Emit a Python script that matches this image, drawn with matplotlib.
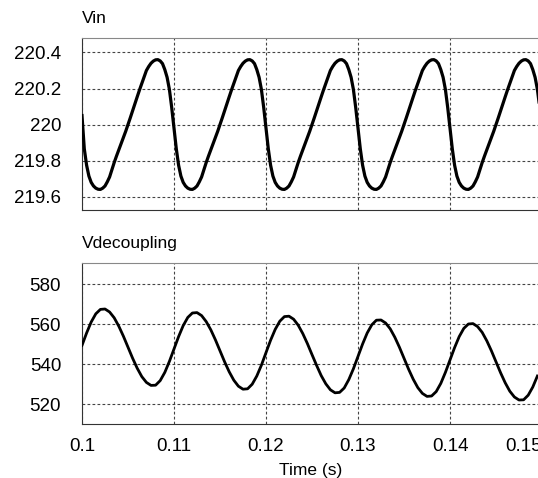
import numpy as np
import matplotlib
matplotlib.use("Agg")
import matplotlib.pyplot as plt

plt.rcParams.update({
    "font.family": ["Liberation Sans", "DejaVu Sans"],
    "font.size": 13.5,
})

# Tiempos de muestreo
t_vin = 0.1 + 0.00025 * np.arange(200)
t_vdec = 0.1 + 0.0005 * np.arange(100)

# Vin (V), cada 0.25 ms
vin = [220.05, 219.866, 219.775, 219.715, 219.68, 219.66, 219.648, 219.642,
       # periodo 1
       219.641, 219.648, 219.66, 219.683, 219.71, 219.75, 219.79, 219.826,
       219.86, 219.893, 219.927, 219.963, 220.0, 220.038, 220.077, 220.115,
       220.154, 220.192, 220.228, 220.264, 220.3, 220.322, 220.34, 220.352,
       220.359, 220.36, 220.353, 220.338, 220.305, 220.262, 220.195, 220.095,
       219.978, 219.866, 219.775, 219.715, 219.68, 219.66, 219.648, 219.642,
       # periodo 2
       219.641, 219.648, 219.66, 219.683, 219.71, 219.75, 219.79, 219.826,
       219.86, 219.893, 219.927, 219.963, 220.0, 220.038, 220.077, 220.115,
       220.154, 220.192, 220.228, 220.264, 220.3, 220.322, 220.34, 220.352,
       220.359, 220.36, 220.353, 220.338, 220.305, 220.262, 220.195, 220.095,
       219.978, 219.866, 219.775, 219.715, 219.68, 219.66, 219.648, 219.642,
       # periodo 3
       219.641, 219.648, 219.66, 219.683, 219.71, 219.75, 219.79, 219.826,
       219.86, 219.893, 219.927, 219.963, 220.0, 220.038, 220.077, 220.115,
       220.154, 220.192, 220.228, 220.264, 220.3, 220.322, 220.34, 220.352,
       220.359, 220.36, 220.353, 220.338, 220.305, 220.262, 220.195, 220.095,
       219.978, 219.866, 219.775, 219.715, 219.68, 219.66, 219.648, 219.642,
       # periodo 4
       219.641, 219.648, 219.66, 219.683, 219.71, 219.75, 219.79, 219.826,
       219.86, 219.893, 219.927, 219.963, 220.0, 220.038, 220.077, 220.115,
       220.154, 220.192, 220.228, 220.264, 220.3, 220.322, 220.34, 220.352,
       220.359, 220.36, 220.353, 220.338, 220.305, 220.262, 220.195, 220.095,
       219.978, 219.866, 219.775, 219.715, 219.68, 219.66, 219.648, 219.642,
       # periodo 5 (incompleto)
       219.641, 219.648, 219.66, 219.683, 219.71, 219.75, 219.79, 219.826,
       219.86, 219.893, 219.927, 219.963, 220.0, 220.038, 220.077, 220.115,
       220.154, 220.192, 220.228, 220.264, 220.3, 220.322, 220.34, 220.352,
       220.359, 220.36, 220.353, 220.338, 220.305, 220.262, 220.195, 220.095]

# Vdecoupling (V), cada 0.5 ms
vdec = [549.3, 555.5, 561.0, 565.1, 567.3, 567.5, 566.0, 563.1, 558.9, 553.9,
        548.4, 542.9, 537.9, 533.7, 530.8, 529.3, 529.4, 531.7, 535.8, 541.3,
        547.5, 553.7, 559.2, 563.3, 565.5, 565.7, 564.2, 561.2, 557.1, 552.1,
        546.6, 541.1, 536.1, 531.9, 528.9, 527.4, 527.6, 529.9, 534.0, 539.4,
        545.7, 551.9, 557.3, 561.4, 563.7, 563.9, 562.4, 559.4, 555.2, 550.2,
        544.7, 539.3, 534.2, 530.1, 527.1, 525.6, 525.8, 528.0, 532.2, 537.6,
        543.8, 550.0, 555.5, 559.6, 561.9, 562.0, 560.5, 557.6, 553.4, 548.4,
        542.9, 537.4, 532.4, 528.2, 525.3, 523.8, 524.0, 526.2, 530.3, 535.8,
        542.0, 548.2, 553.7, 557.8, 560.0, 560.2, 558.7, 555.8, 551.6, 546.6,
        541.1, 535.6, 530.6, 526.4, 523.5, 522.0, 522.1, 524.4, 528.5, 534.0]

xticks = [0.1, 0.11, 0.12, 0.13, 0.14, 0.15]
xticklabels = ["0.1", "0.11", "0.12", "0.13", "0.14", ""]
vin_ticks = [219.6, 219.8, 220.0, 220.2, 220.4]
vin_labels = ["219.6", "219.8", "220", "220.2", "220.4"]
vdec_ticks = [520, 540, 560, 580]
vdec_labels = ["520", "540", "560", "580"]

W, H = 538, 478
fig = plt.figure(figsize=(W / 100, H / 100), dpi=100)

def caja(x0, y0, x1, y1):
    # píxeles -> fracción de figura
    return [x0 / W, 1 - y1 / H, (x1 - x0) / W, (y1 - y0) / H]

ax1 = fig.add_axes(caja(82, 38, 542, 210))
ax2 = fig.add_axes(caja(82, 263, 542, 424))

for ax, x, y, titulo, yt, yl, lim, lw, ytit in [
    (ax1, t_vin, vin, "Vin", vin_ticks, vin_labels, (219.527, 220.48), 2.3, 1.087),
    (ax2, t_vdec, vdec, "Vdecoupling", vdec_ticks, vdec_labels, (510, 590.5), 2.0, 1.091),
]:
    ax.plot(x, y, color="black", lw=lw, zorder=3, solid_joinstyle="round")
    ax.set_xlim(0.1, 0.15)
    ax.set_ylim(*lim)
    ax.set_xticks(xticks)
    ax.set_yticks(yt)
    ax.set_yticklabels(yl)
    ax.tick_params(length=0, pad=15, labelsize=13.5)
    ax.tick_params(axis="x", pad=10)
    ax.grid(True, color="#444", lw=0.8, linestyle=(0, (2.5, 2)))
    ax.set_axisbelow(True)
    ax.spines["top"].set_color("#888")
    ax.spines["left"].set_color("#333")
    ax.spines["bottom"].set_color("#333")
    ax.spines["right"].set_visible(False)
    ax.text(0.0, ytit, titulo, transform=ax.transAxes, fontsize=12.5,
            ha="left", va="baseline")

ax1.set_xticklabels([])
ax2.set_xticklabels(xticklabels)
# la última etiqueta queda cortada por el borde, como en el original
fig.text(505 / W, 1 - 438 / H, "0.15", fontsize=13.5, ha="left", va="top")
ax2.set_xlabel("Time (s)", fontsize=12.5)
ax2.xaxis.set_label_coords((311 - 82) / 460, -0.245)

fig.savefig("out.png", dpi=100)
